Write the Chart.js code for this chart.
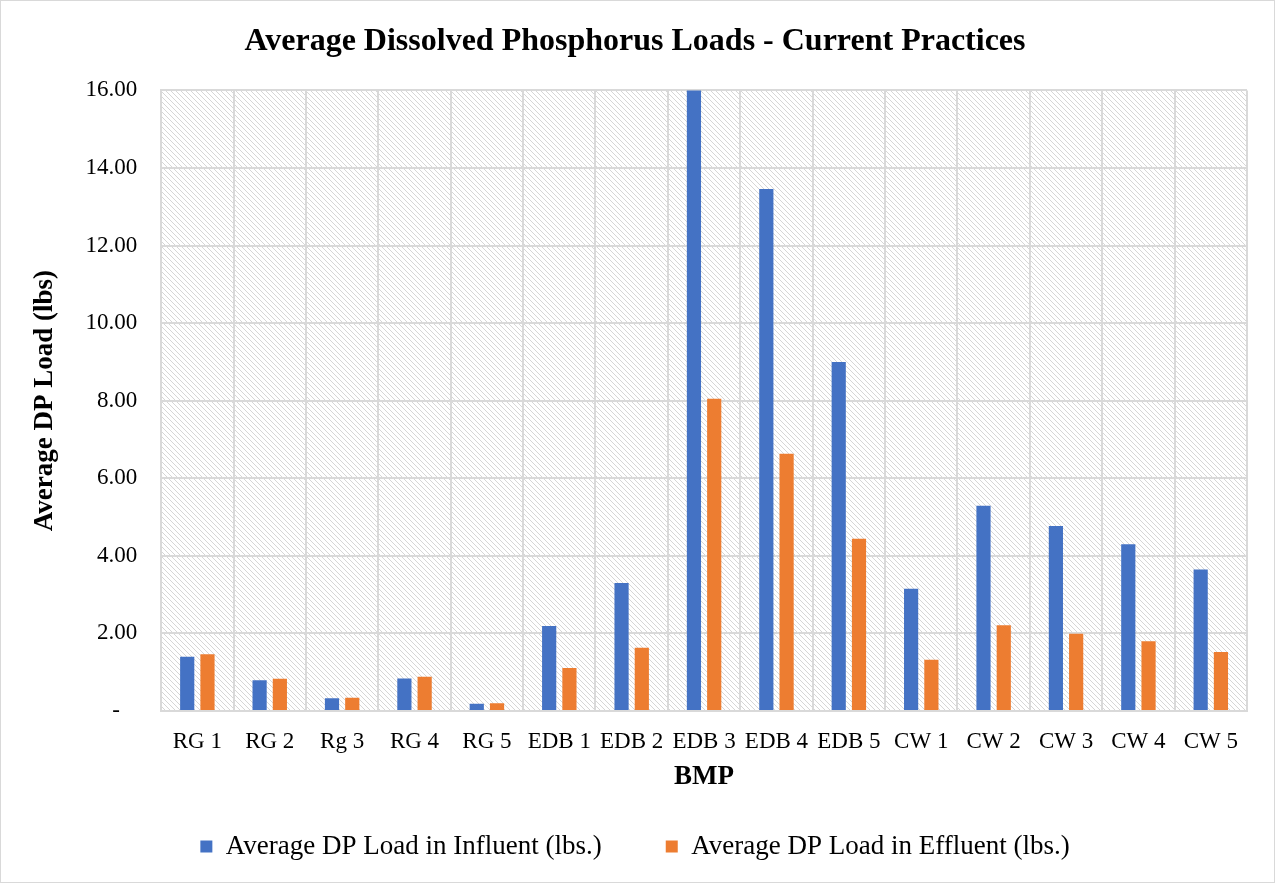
<!DOCTYPE html>
<html>
<head>
<meta charset="utf-8">
<script src="https://cdn.jsdelivr.net/npm/chart.js@4/dist/chart.umd.min.js"></script>
<style>
  html,body{margin:0;padding:0;background:#fff;}
  #wrap{width:1273px;height:881px;border:1px solid #d9d9d9;position:relative;}
</style>
</head>
<body>
<div id="wrap"><canvas id="chart" width="1273" height="881"></canvas></div>
<script>
// data
const categories = ['RG 1','RG 2','Rg 3','RG 4','RG 5','EDB 1','EDB 2','EDB 3','EDB 4','EDB 5','CW 1','CW 2','CW 3','CW 4','CW 5'];
const influent = [1.40,0.79,0.33,0.84,0.19,2.19,3.30,16.5,13.46,9.00,3.15,5.29,4.77,4.30,3.65];
const effluent = [1.46,0.83,0.34,0.88,0.20,1.11,1.63,8.05,6.63,4.44,1.32,2.21,1.99,1.80,1.52];
const seriesNames = ['Average DP Load in Influent (lbs.)','Average DP Load in Effluent (lbs.)'];
const yMax = 16, yStep = 2;

const SERIF = "'Liberation Serif','Times New Roman',serif";

// light diagonal hatch like the Excel plot-area fill
function hatch(){
  const c = document.createElement('canvas'); c.width = 5; c.height = 5;
  const g = c.getContext('2d');
  g.fillStyle = '#fff'; g.fillRect(0,0,5,5);
  g.fillStyle = '#d6d6d6';
  for(let i=0;i<5;i++) g.fillRect(i,i,1,1);
  return g.createPattern(c,'repeat');
}

const plotBg = {
  id:'plotBg',
  beforeDraw(chart){
    const {ctx, chartArea:a} = chart;
    ctx.save();
    ctx.fillStyle = hatch();
    ctx.fillRect(a.left,a.top,a.right-a.left,a.bottom-a.top);
    ctx.restore();
  }
};

new Chart(document.getElementById('chart'), {
  type:'bar',
  data:{
    labels:categories,
    datasets:[
      // trailing spaces widen the gap between the two legend entries
      {label:seriesNames[0] + '\u00a0'.repeat(8), data:influent, backgroundColor:'#4472C4', barPercentage:0.7, categoryPercentage:0.56},
      {label:seriesNames[1], data:effluent, backgroundColor:'#ED7D31', barPercentage:0.7, categoryPercentage:0.56}
    ]
  },
  options:{
    responsive:false,
    animation:false,
    layout:{padding:{left:22, right:27, top:0, bottom:12}},
    plugins:{
      title:{display:true, text:'Average Dissolved Phosphorus Loads - Current Practices', color:'#000',
        font:{family:SERIF, size:32, weight:'bold'}, padding:{top:22, bottom:29}},
      legend:{position:'bottom',
        labels:{color:'#000', font:{family:SERIF, size:27}, boxWidth:12, boxHeight:12, padding:10}},
      tooltip:{enabled:false}
    },
    scales:{
      x:{
        grid:{color:'#d9d9d9', lineWidth:2, drawTicks:false},
        border:{color:'#d9d9d9', width:2},
        ticks:{color:'#000', font:{family:SERIF, size:23}, maxRotation:0, autoSkip:false, padding:17},
        title:{display:true, text:'BMP', color:'#000', font:{family:SERIF, size:27, weight:'bold'}, padding:{top:-12, bottom:30}}
      },
      y:{
        min:0, max:yMax,
        grid:{color:'#d9d9d9', lineWidth:2, drawTicks:false},
        border:{color:'#d9d9d9', width:2},
        ticks:{stepSize:yStep, color:'#000', font:{family:SERIF, size:23}, padding:24,
          callback:v => v===0 ? '-   ' : v.toFixed(2)},
        title:{display:true, text:'Average DP Load (lbs)', color:'#000', font:{family:SERIF, size:27, weight:'bold'}, padding:{top:6, bottom:0}}
      }
    }
  },
  plugins:[plotBg]
});
</script>
</body>
</html>
